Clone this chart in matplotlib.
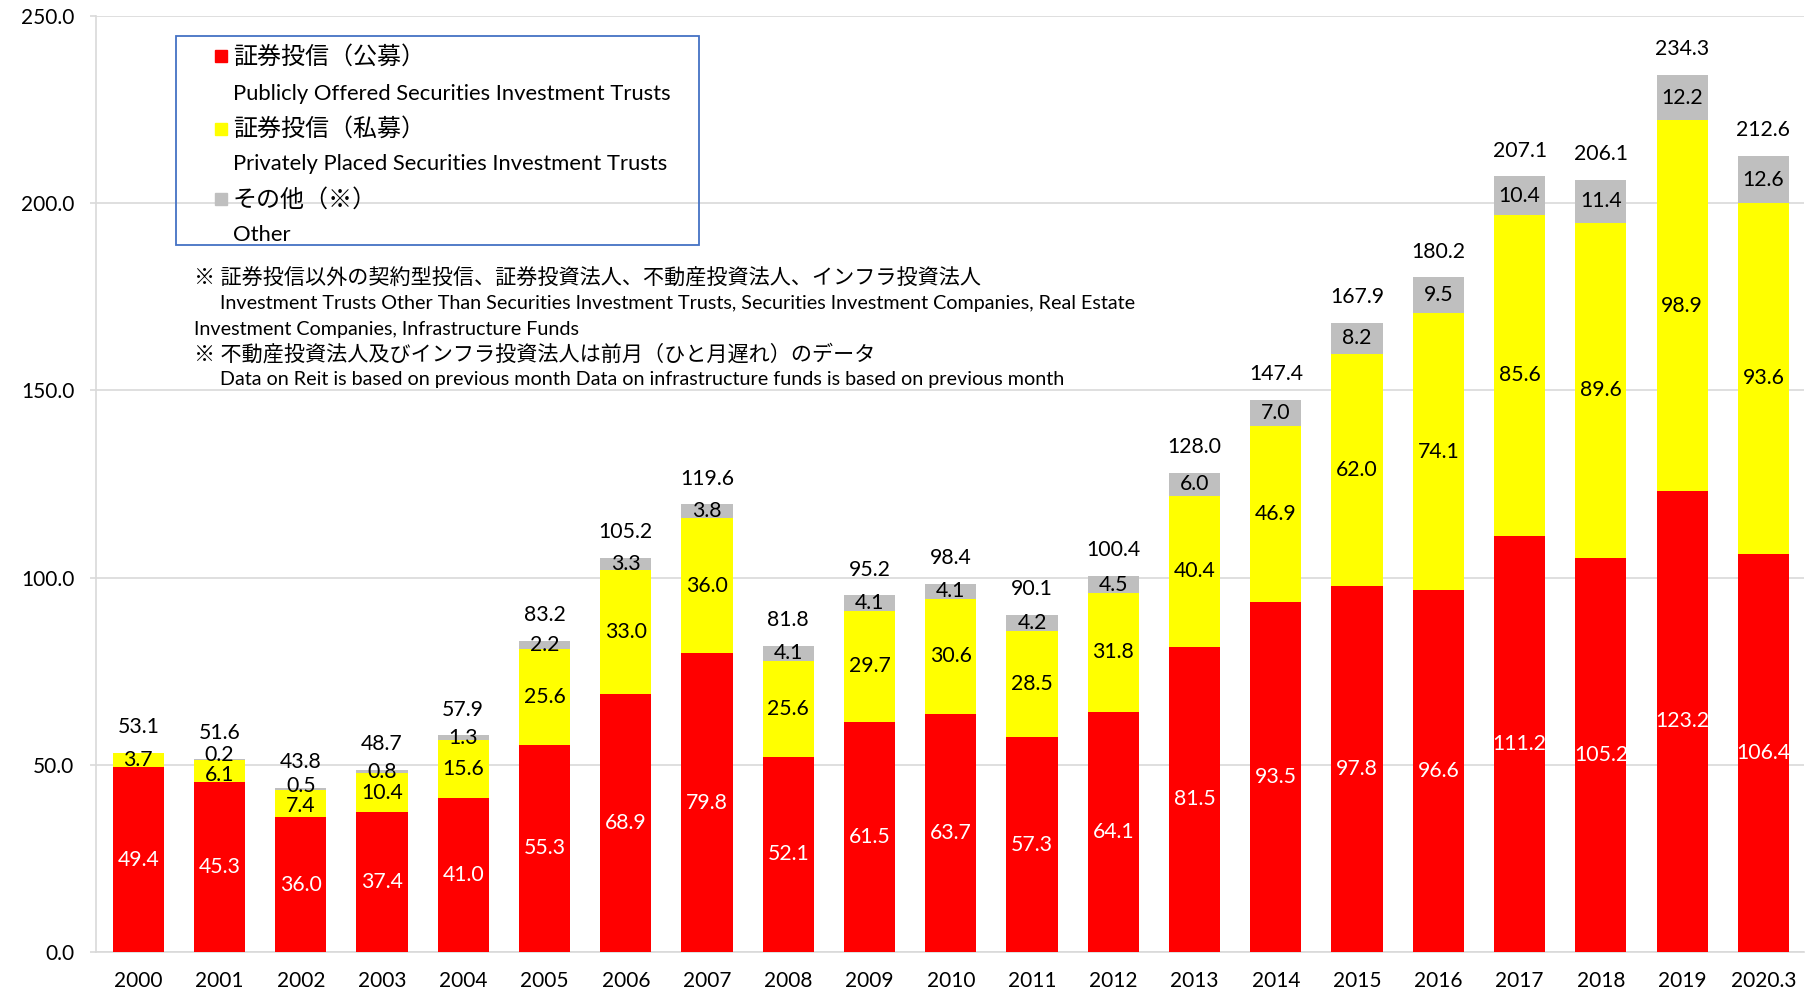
import numpy as np
import matplotlib.pyplot as plt
from matplotlib.patches import Rectangle

plt.rcParams['font.family'] = ['Lato', 'Noto Sans CJK JP', 'DejaVu Sans']

years = ['2000', '2001', '2002', '2003', '2004', '2005', '2006', '2007', '2008', '2009', '2010',
         '2011', '2012', '2013', '2014', '2015', '2016', '2017', '2018', '2019', '2020.3']
public = [49.4, 45.3, 36.0, 37.4, 41.0, 55.3, 68.9, 79.8, 52.1, 61.5, 63.7,
          57.3, 64.1, 81.5, 93.5, 97.8, 96.6, 111.2, 105.2, 123.2, 106.4]
private = [3.7, 6.1, 7.4, 10.4, 15.6, 25.6, 33.0, 36.0, 25.6, 29.7, 30.6,
           28.5, 31.8, 40.4, 46.9, 62.0, 74.1, 85.6, 89.6, 98.9, 93.6]
other = [0.0, 0.2, 0.5, 0.8, 1.3, 2.2, 3.3, 3.8, 4.1, 4.1, 4.1,
         4.2, 4.5, 6.0, 7.0, 8.2, 9.5, 10.4, 11.4, 12.2, 12.6]
totals = [53.1, 51.6, 43.8, 48.7, 57.9, 83.2, 105.2, 119.6, 81.8, 95.2, 98.4,
          90.1, 100.4, 128.0, 147.4, 167.9, 180.2, 207.1, 206.1, 234.3, 212.6]

legend_labels = [('証券投信（公募）', 'Publicly Offered Securities Investment Trusts'),
                 ('証券投信（私募）', 'Privately Placed Securities Investment Trusts'),
                 ('その他（※）', 'Other')]
notes = ['※ 証券投信以外の契約型投信、証券投資法人、不動産投資法人、インフラ投資法人',
         'Investment Trusts Other Than Securities Investment Trusts, Securities Investment Companies, Real Estate',
         'Investment Companies, Infrastructure Funds',
         '※ 不動産投資法人及びインフラ投資法人は前月（ひと月遅れ）のデータ',
         'Data on Reit is based on previous month Data on infrastructure funds is based on previous month']

colors = ['#FF0000', '#FFFF00', '#BFBFBF']
grid_c = '#D9D9D9'
W, H = 1816, 997

fig = plt.figure(figsize=(W / 100, H / 100), dpi=100)
ax = fig.add_axes([96 / W, 1 - 952 / H, (1804 - 96) / W, (952 - 16) / H])

x = np.arange(len(years))
pub = np.array(public)
pri = np.array(private)
oth = np.array(other)
width = 0.63
ax.bar(x, pub, width, color=colors[0], zorder=3)
ax.bar(x, pri, width, bottom=pub, color=colors[1], zorder=3)
ax.bar(x, oth, width, bottom=pub + pri, color=colors[2], zorder=3)

fs = 15.3
min_gap = 5.4  # in data units, keeps the small stacked labels apart
for i in x:
    y_pri = pub[i] + pri[i] / 2
    y_oth = pub[i] + pri[i] + oth[i] / 2
    if oth[i] > 0 and y_oth - y_pri < min_gap:
        shift = (min_gap - (y_oth - y_pri)) / 2
        y_pri -= shift
        y_oth += shift
    ax.text(i, pub[i] / 2, f'{pub[i]:.1f}', ha='center', va='center', color='white', fontsize=fs, zorder=4)
    ax.text(i, y_pri, f'{pri[i]:.1f}', ha='center', va='center', color='black', fontsize=fs, zorder=4)
    if oth[i] > 0:
        ax.text(i, y_oth, f'{oth[i]:.1f}', ha='center', va='center', color='black', fontsize=fs, zorder=4)
    ax.annotate(f'{totals[i]:.1f}', (i, pub[i] + pri[i] + oth[i]), xytext=(0, 18.5),
                textcoords='offset points', ha='center', va='center', fontsize=fs, zorder=4)

ax.set_xlim(-0.52, len(years) - 0.5)
ax.set_ylim(0, 250)
ax.set_yticks(np.arange(0, 251, 50))
ax.set_yticklabels([f'{v:.1f}' for v in np.arange(0, 251, 50)])
ax.set_xticks(x)
ax.set_xticklabels(years)
ax.tick_params(axis='y', length=4.5, color=grid_c, width=1.2, labelsize=15, pad=11)
ax.tick_params(axis='x', length=0, labelsize=15, pad=14)
ax.yaxis.grid(True, color=grid_c, linewidth=1.2, zorder=0)
for s in ['top', 'right']:
    ax.spines[s].set_visible(False)
for s in ['left', 'bottom']:
    ax.spines[s].set_color(grid_c)
    ax.spines[s].set_linewidth(1.2)


def px(xp, yp):
    return xp / W, 1 - yp / H


# legend box
lx0, ly0 = px(176, 245)
lx1, ly1 = px(699, 36)
fig.patches.append(Rectangle((lx0, ly0), lx1 - lx0, ly1 - ly0, transform=fig.transFigure,
                             fill=False, edgecolor='#4472C4', linewidth=1.3, zorder=5))
row_y = [56, 93.5, 128.5, 164, 199.5, 235]
for k, (jp, en) in enumerate(legend_labels):
    yj = row_y[2 * k]
    ye = row_y[2 * k + 1]
    mx, my = px(215, yj + 6)
    fig.patches.append(Rectangle((mx, my), 12 / W, 12 / H, transform=fig.transFigure,
                                 color=colors[k], zorder=6))
    fig.text(*px(233, yj), jp, fontsize=17.3, va='center', ha='left')
    fig.text(*px(233, ye), en, fontsize=15.8, va='center', ha='left')

note_y = [278, 303, 329, 354, 380]
note_x = [194, 220, 194, 194, 220]
for t, xp, yp in zip(notes, note_x, note_y):
    fig.text(*px(xp, yp), t, fontsize=15.2 if t.startswith('※') else 14.2, va='center', ha='left')

fig.savefig('out.png', dpi=100)
